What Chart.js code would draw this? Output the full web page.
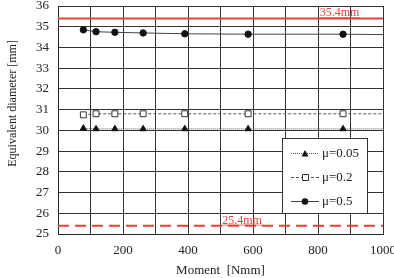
<!DOCTYPE html>
<html>
<head>
<meta charset="utf-8">
<script src="https://cdn.jsdelivr.net/npm/chart.js@4"></script>
<style>
  html, body { margin: 0; padding: 0; background: #fff; }
  #wrap { width: 394px; height: 278px; }
</style>
</head>
<body>
<div id="wrap"><canvas id="chart"></canvas></div>
<script>
// moments [Nmm]
var moments = [78, 117, 175, 262, 390, 585, 877, 1000];
// equivalent diameter [mm] per friction coefficient (last entry: line runs to the edge)
var mu005 = [30.1, 30.07, 30.07, 30.07, 30.07, 30.07, 30.07, 30.07];
var mu02 = [30.75, 30.8, 30.8, 30.8, 30.8, 30.8, 30.8, 30.8];
var mu05 = [34.85, 34.76, 34.73, 34.7, 34.66, 34.64, 34.64, 34.62];
var seriesNames = ['\u03bc=0.05', '\u03bc=0.2', '\u03bc=0.5'];
var limitValues = [35.4, 25.4];
var limitLabels = ['35.4mm', '25.4mm'];
var xTicks = [0, 200, 400, 600, 800, 1000];
var yTitle = 'Equivalent diameter [mm]';

var font = 'Liberation Serif';

function toPoints(ys) {
    return moments.map(function (x, i) { return { x: x, y: ys[i] }; });
}
function radii(r) {
    return moments.map(function (x, i) { return i === moments.length - 1 ? 0 : r; });
}

var datasets = [
    {
        label: seriesNames[0], data: toPoints(mu005),
        borderColor: '#555', borderWidth: 1, borderDash: [1, 1],
        pointStyle: 'triangle', pointRadius: radii(3.6),
        pointBackgroundColor: '#111', pointBorderColor: '#111'
    },
    {
        label: seriesNames[1], data: toPoints(mu02),
        borderColor: '#555', borderWidth: 1, borderDash: [3, 2],
        pointStyle: 'rect', pointRadius: radii(4.2),
        pointBackgroundColor: '#fff', pointBorderColor: '#333', pointBorderWidth: 1
    },
    {
        label: seriesNames[2], data: toPoints(mu05),
        borderColor: '#444', borderWidth: 1,
        pointStyle: 'circle', pointRadius: radii(3.2),
        pointBackgroundColor: '#111', pointBorderColor: '#111'
    },
    {
        label: 'limit-top', data: [{ x: 0, y: limitValues[0] }, { x: 1000, y: limitValues[0] }],
        borderColor: '#e8413a', borderWidth: 2, pointRadius: 0
    },
    {
        label: 'limit-bottom', data: [{ x: 0, y: limitValues[1] }, { x: 1000, y: limitValues[1] }],
        borderColor: '#e8413a', borderWidth: 2, borderDash: [11, 6], pointRadius: 0
    }
];

// red labels for the limit lines, the y title and the boxed legend
var extras = {
    id: 'extras',
    afterDatasetsDraw: function (chart) {
        var ctx = chart.ctx;
        var xs = chart.scales.x, ys = chart.scales.y;
        ctx.save();
        ctx.fillStyle = '#e8413a';
        ctx.strokeStyle = '#e8413a';
        ctx.lineWidth = 0.8;
        ctx.font = '12px ' + font;
        ctx.textBaseline = 'alphabetic';
        var spots = [[805, limitValues[0] + 0.1], [505, limitValues[1] + 0.1]];
        for (var i = 0; i < 2; i++) {
            var px = xs.getPixelForValue(spots[i][0]);
            var py = ys.getPixelForValue(spots[i][1]);
            ctx.fillText(limitLabels[i], px, py);
            var w = ctx.measureText(limitLabels[i]).width;
            ctx.beginPath();
            ctx.moveTo(px, py + 1.5);
            ctx.lineTo(px + w, py + 1.5);
            ctx.stroke();
        }

        // y axis title, sits a bit above the middle as in the original
        ctx.save();
        ctx.translate(13, ys.getPixelForValue(31.3));
        ctx.rotate(-Math.PI / 2);
        ctx.fillStyle = '#222';
        ctx.font = '12px ' + font;
        ctx.textAlign = 'center';
        ctx.textBaseline = 'middle';
        ctx.fillText(yTitle, 0, 0);
        ctx.restore();

        // legend box
        var bx = 282, by = 138, bw = 85, bh = 75;
        ctx.fillStyle = '#fff';
        ctx.fillRect(bx, by, bw, bh);
        ctx.strokeStyle = '#333';
        ctx.lineWidth = 1;
        ctx.setLineDash([]);
        ctx.strokeRect(bx + 0.5, by + 0.5, bw, bh);
        ctx.font = '13px ' + font;
        ctx.textBaseline = 'middle';
        for (var k = 0; k < 3; k++) {
            var ds = datasets[k];
            var ly = by + 15 + k * 24;
            ctx.strokeStyle = ds.borderColor;
            ctx.setLineDash(ds.borderDash || []);
            ctx.beginPath();
            ctx.moveTo(bx + 9, ly + 0.5);
            ctx.lineTo(bx + 37, ly + 0.5);
            ctx.stroke();
            ctx.setLineDash([]);
            ctx.fillStyle = ds.pointBackgroundColor;
            ctx.strokeStyle = ds.pointBorderColor;
            ctx.beginPath();
            if (ds.pointStyle === 'circle') {
                ctx.arc(bx + 23, ly + 0.5, 3.3, 0, Math.PI * 2);
                ctx.fill();
            } else if (ds.pointStyle === 'rect') {
                ctx.rect(bx + 20.5, ly - 2.5, 6, 6);
                ctx.fill();
                ctx.stroke();
            } else {
                ctx.moveTo(bx + 23, ly - 3);
                ctx.lineTo(bx + 26.5, ly + 3.5);
                ctx.lineTo(bx + 19.5, ly + 3.5);
                ctx.closePath();
                ctx.fill();
            }
            ctx.fillStyle = '#222';
            ctx.fillText(seriesNames[k], bx + 40, ly + 1);
        }
        ctx.restore();
    }
};

new Chart(document.getElementById('chart'), {
    type: 'line',
    data: { datasets: datasets },
    plugins: [extras],
    options: {
        responsive: true,
        maintainAspectRatio: false,
        animation: false,
        layout: { padding: { top: 6, right: 11, left: 0, bottom: 0 } },
        plugins: { legend: { display: false }, tooltip: { enabled: false } },
        scales: {
            x: {
                type: 'linear', min: 0, max: 1000,
                grid: { color: '#333', lineWidth: 1, drawTicks: false },
                border: { color: '#222', width: 1 },
                afterBuildTicks: function (axis) {
                    axis.ticks = [];
                    for (var v = 0; v <= 1000; v += 100) axis.ticks.push({ value: v });
                },
                ticks: {
                    autoSkip: false, maxRotation: 0, padding: 9,
                    color: '#222', font: { family: font, size: 13 },
                    callback: function (v) { return xTicks.indexOf(v) >= 0 ? String(v) : ''; }
                },
                title: {
                    display: true, text: 'Moment  [Nmm]', color: '#222',
                    font: { family: font, size: 13 }, padding: { top: 3, bottom: 0 }
                },
                afterFit: function (axis) {
                    axis.height = 44;
                    axis.paddingLeft = 0; axis.paddingRight = 0;
                }
            },
            y: {
                min: 25, max: 36,
                grid: { color: '#333', lineWidth: 1, drawTicks: false },
                border: { color: '#222', width: 1 },
                ticks: {
                    stepSize: 1, padding: 9,
                    color: '#222', font: { family: font, size: 13 }
                },
                title: { display: false },
                afterFit: function (axis) {
                    axis.width = 58;
                    axis.paddingTop = 0; axis.paddingBottom = 0;
                }
            }
        }
    }
});
</script>
</body>
</html>
